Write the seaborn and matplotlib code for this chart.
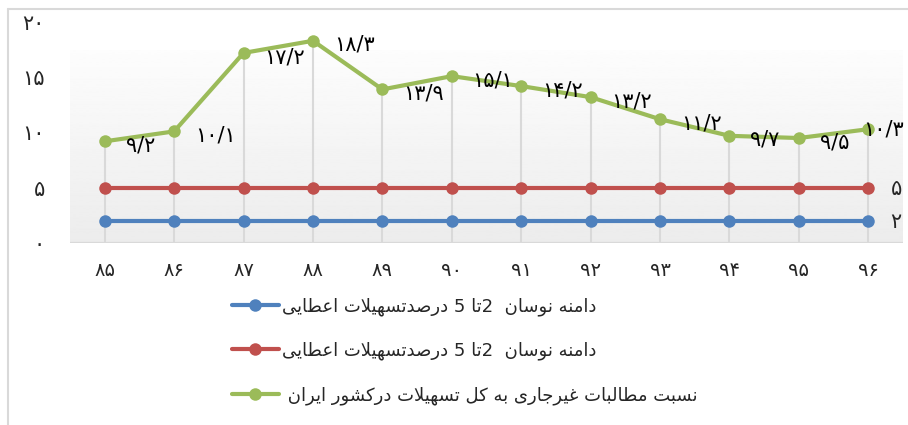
import numpy as np
import pandas as pd
import matplotlib
matplotlib.use("Agg")
import matplotlib.pyplot as plt
from matplotlib.lines import Line2D
import seaborn as sns

# ---------------- data ----------------
years = ["85", "86", "87", "88", "89", "90", "91", "92", "93", "94", "95", "96"]
range_low = [2, 2, 2, 2, 2, 2, 2, 2, 2, 2, 2, 2]
range_high = [5, 5, 5, 5, 5, 5, 5, 5, 5, 5, 5, 5]
npl_ratio = [9.2, 10.1, 17.2, 18.3, 13.9, 15.1, 14.2, 13.2, 11.2, 9.7, 9.5, 10.3]
y_ticks = [0, 5, 10, 15, 20]
label_low = "دامنه نوسان  2تا 5 درصدتسهیلات اعطایی"
label_high = "دامنه نوسان  2تا 5 درصدتسهیلات اعطایی"
label_npl = "نسبت مطالبات غیرجاری به کل تسهیلات درکشور ایران "

# ---------------- minimal Persian shaping ----------------
FORMS = {
    'ا': ('\uFE8D', '\uFE8E', None, None),
    'ب': ('\uFE8F', '\uFE90', '\uFE91', '\uFE92'),
    'ت': ('\uFE95', '\uFE96', '\uFE97', '\uFE98'),
    'ج': ('\uFE9D', '\uFE9E', '\uFE9F', '\uFEA0'),
    'د': ('\uFEA9', '\uFEAA', None, None),
    'ر': ('\uFEAD', '\uFEAE', None, None),
    'س': ('\uFEB1', '\uFEB2', '\uFEB3', '\uFEB4'),
    'ش': ('\uFEB5', '\uFEB6', '\uFEB7', '\uFEB8'),
    'ص': ('\uFEB9', '\uFEBA', '\uFEBB', '\uFEBC'),
    'ط': ('\uFEC1', '\uFEC2', '\uFEC3', '\uFEC4'),
    'ع': ('\uFEC9', '\uFECA', '\uFECB', '\uFECC'),
    'غ': ('\uFECD', '\uFECE', '\uFECF', '\uFED0'),
    'ل': ('\uFEDD', '\uFEDE', '\uFEDF', '\uFEE0'),
    'م': ('\uFEE1', '\uFEE2', '\uFEE3', '\uFEE4'),
    'ن': ('\uFEE5', '\uFEE6', '\uFEE7', '\uFEE8'),
    'ه': ('\uFEE9', '\uFEEA', '\uFEEB', '\uFEEC'),
    'و': ('\uFEED', '\uFEEE', None, None),
    'ی': ('\uFBFC', '\uFBFD', '\uFBFE', '\uFBFF'),
    'ک': ('\uFB8E', '\uFB8F', '\uFB90', '\uFB91'),
}


def shape(text):
    chars = list(text)
    n = len(chars)
    res = []
    i = 0
    while i < n:
        c = chars[i]
        if c not in FORMS:
            res.append(c)
            i += 1
            continue
        prev = chars[i - 1] if i > 0 else None
        link_prev = prev in FORMS and FORMS[prev][2] is not None
        if c == 'ل' and i + 1 < n and chars[i + 1] == 'ا':
            res.append('\uFEFC' if link_prev else '\uFEFB')
            i += 2
            continue
        nxt = chars[i + 1] if i + 1 < n else None
        link_next = FORMS[c][2] is not None and nxt in FORMS
        iso, fin, ini, med = FORMS[c]
        if link_prev and link_next:
            res.append(med)
        elif link_prev:
            res.append(fin)
        elif link_next:
            res.append(ini)
        else:
            res.append(iso)
        i += 1
    return ''.join(res)[::-1]


PDIG = str.maketrans("0123456789.", "۰۱۲۳۴۵۶۷۸۹/")


def fa(v):
    s = f"{v:g}" if isinstance(v, (int, float)) else str(v)
    return s.translate(PDIG)


# ---------------- style ----------------
sns.set_style("white")
plt.rcParams['font.family'] = ['DejaVu Sans']

BLUE = "#4F81BD"
RED = "#C0504D"
GREEN = "#9BBB59"
GRID = "#d9d9d9"

W, H = 908, 425
fig = plt.figure(figsize=(W / 100, H / 100), dpi=100)
ax = fig.add_axes([70 / W, 1 - 243 / H, (903 - 70) / W, (243 - 22) / H])

x = np.arange(len(years))
df = pd.DataFrame({"x": x, "low": range_low, "high": range_high, "npl": npl_ratio})

# gradient plot background
grad = np.linspace(0.99, 0.925, 256).reshape(-1, 1)
ax.imshow(grad, cmap="gray", vmin=0, vmax=1, aspect="auto",
          extent=[-0.5, len(years) - 0.5, 0, 17.4], zorder=0, origin="upper")

# drop lines
ax.vlines(x, 0, npl_ratio, color=GRID, lw=1.5, zorder=1)
ax.axhline(0, color=GRID, lw=1.6, zorder=1)

kw = dict(marker="o", markersize=9, linewidth=3, markeredgewidth=0, zorder=3)
sns.lineplot(data=df, x="x", y="low", ax=ax, color=BLUE, **kw)
sns.lineplot(data=df, x="x", y="high", ax=ax, color=RED, **kw)
sns.lineplot(data=df, x="x", y="npl", ax=ax, color=GREEN, **kw)

# data labels
LFS = 15
for i, v in enumerate(npl_ratio):
    if i < len(npl_ratio) - 1:
        ax.annotate(fa(v), (x[i], v), xytext=(15, -3), textcoords="offset points",
                    ha="left", va="center", fontsize=LFS, color="black", zorder=5,
                    annotation_clip=False)
    else:
        # last label pushed inside the chart's right edge
        ax.annotate(fa(v), xy=(1, v), xycoords=("figure fraction", "data"),
                    xytext=(-3, 0), textcoords="offset points",
                    ha="right", va="center", fontsize=LFS, color="black", zorder=5,
                    annotation_clip=False)
ax.annotate(fa(range_high[-1]), (x[-1], range_high[-1]), xytext=(16, -1),
            textcoords="offset points", ha="left", va="center", fontsize=LFS,
            annotation_clip=False)
ax.annotate(fa(range_low[-1]), (x[-1], range_low[-1]), xytext=(16, -1),
            textcoords="offset points", ha="left", va="center", fontsize=LFS,
            annotation_clip=False)

ax.set_xlim(-0.5, len(years) - 0.5)
ax.set_ylim(0, 20)
ax.set_xticks(x)
ax.set_xticklabels([fa(y) for y in years], fontsize=14)
ax.set_yticks(y_ticks)
ax.set_yticklabels([fa(t) for t in y_ticks], fontsize=15)
ax.tick_params(axis="both", length=0)
ax.tick_params(axis="y", pad=18)
ax.tick_params(axis="x", pad=13)
ax.set_xlabel("")
ax.set_ylabel("")
for s in ax.spines.values():
    s.set_visible(False)
ax.patch.set_alpha(0)

# legend
handles = [
    Line2D([], [], color=BLUE, lw=3, marker="o", markersize=9, markeredgewidth=0),
    Line2D([], [], color=RED, lw=3, marker="o", markersize=9, markeredgewidth=0),
    Line2D([], [], color=GREEN, lw=3, marker="o", markersize=9, markeredgewidth=0),
]
labels = [shape(label_low), shape(label_high), shape(label_npl)]
fig.legend(handles, labels, loc="upper left", bbox_to_anchor=(232 / W, 1 - 297 / H),
           frameon=False, fontsize=13, handlelength=2.6, handletextpad=0.15,
           labelspacing=1.45, borderaxespad=0, borderpad=0)

# figure border (top and left)
fig.add_artist(Line2D([8 / W, 1], [1 - 9 / H, 1 - 9 / H], color=GRID, lw=1.5))
fig.add_artist(Line2D([8 / W, 8 / W], [0, 1 - 9 / H], color=GRID, lw=1.5))

fig.savefig("out.png", dpi=100)
